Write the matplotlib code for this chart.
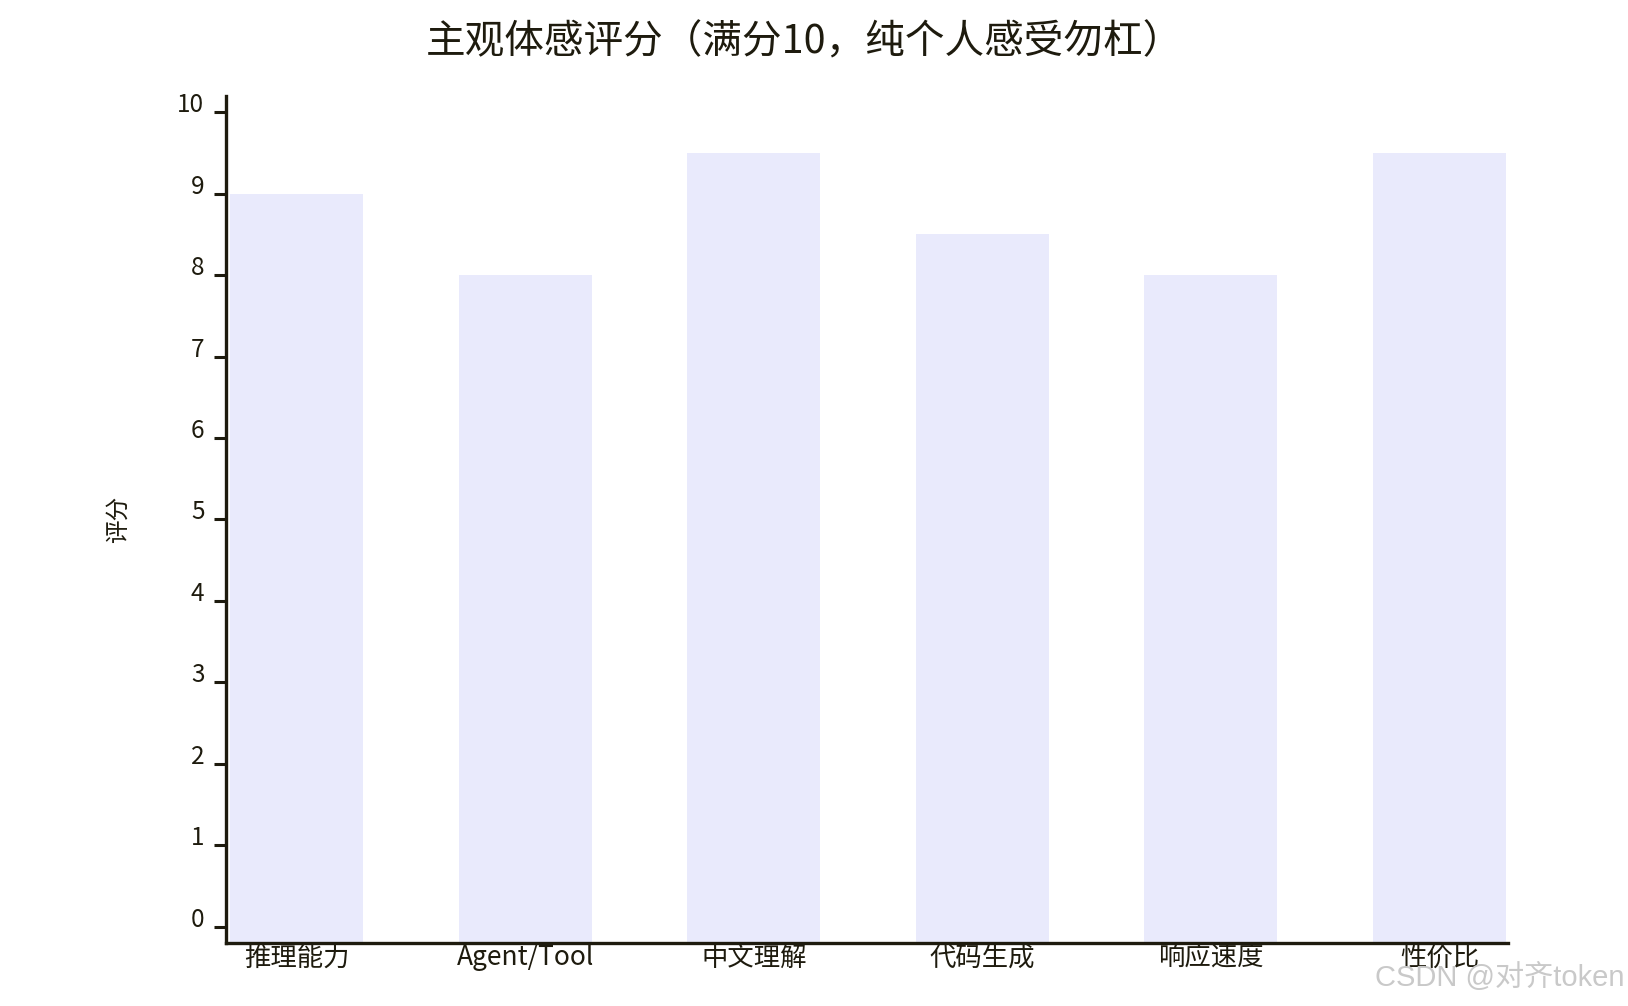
import matplotlib
matplotlib.use("Agg")
from matplotlib import pyplot as plt

categories = ["推理能力", "Agent/Tool", "中文理解", "代码生成", "响应速度", "性价比"]
scores = [9, 8, 9.5, 8.5, 8, 9.5]
y_ticks = list(range(0, 11))
title = "主观体感评分（满分10，纯个人感受勿杠）"
y_label = "评分"

plt.rcParams["font.family"] = ["Noto Sans CJK SC", "DejaVu Sans"]
ink = "#1e1b0e"
y_min, y_max = -0.2, 10.2

fig = plt.figure(figsize=(16.28, 10.06), dpi=100)
ax = fig.add_axes([0.1388, 0.0626, 0.7875, 0.842])

x = list(range(len(categories)))
ax.bar(x, [s - y_min for s in scores], bottom=y_min, width=0.582, color="#e9eafc")

ax.set_xlim(-0.31, 5.3)
ax.set_ylim(y_min, y_max)
ax.set_xticks(x)
ax.set_xticklabels(categories, fontsize=19, color=ink)
ax.set_yticks(y_ticks)
ax.set_yticklabels([str(t) for t in y_ticks], fontsize=17.5, color=ink)
for lbl in ax.get_yticklabels():
    lbl.set_verticalalignment("baseline")

ax.tick_params(axis="x", length=0, pad=1)
ax.tick_params(axis="y", length=8.5, width=2.2, color=ink, pad=7)

for side in ["top", "right"]:
    ax.spines[side].set_visible(False)
for side in ["left", "bottom"]:
    ax.spines[side].set_linewidth(2.4)
    ax.spines[side].set_color(ink)

ax.set_ylabel(y_label, fontsize=17, color=ink, labelpad=34)
fig.text(0.494, 0.958, title, fontsize=28.5, color=ink, ha="center", va="center")
fig.text(0.998, 0.028, "CSDN @对齐token", fontsize=21, color="#c9c9c9",
         ha="right", va="center", family=["Liberation Sans", "Noto Sans CJK SC"])

fig.savefig("out.png", dpi=100)
